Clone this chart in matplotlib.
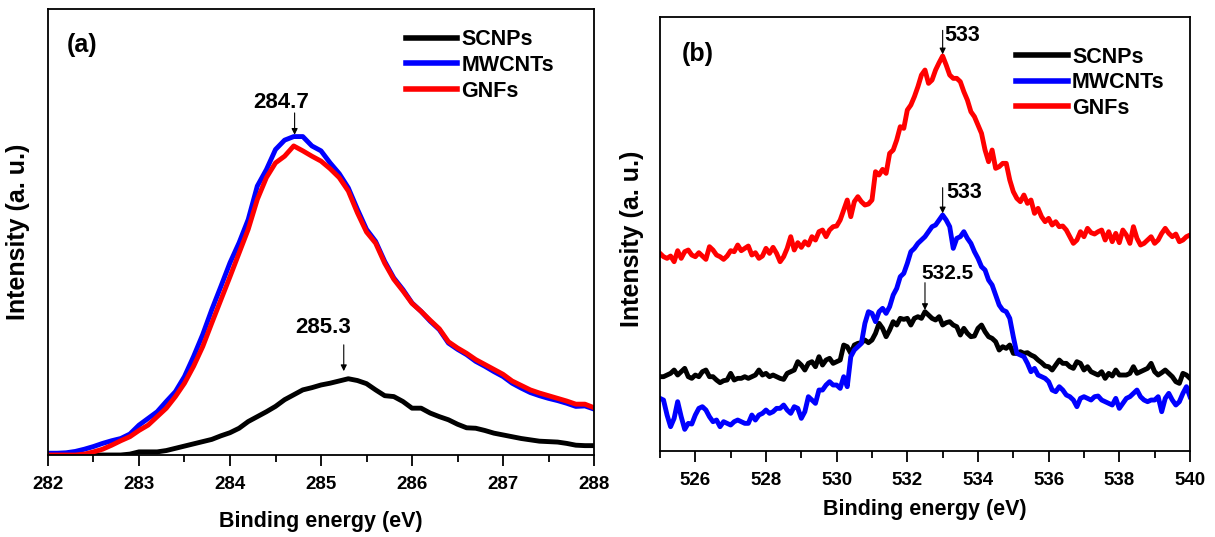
import numpy as np
import matplotlib
matplotlib.use("Agg")
import matplotlib.pyplot as plt
from matplotlib.ticker import MultipleLocator

plt.rcParams['font.family'] = ['Liberation Sans', 'DejaVu Sans']
plt.rcParams['font.weight'] = 'bold'

# ---- panel (a): C 1s, 282-288 eV, 0.1 eV steps ----
energy_c = np.round(np.arange(282.0, 288.01, 0.1), 1)
c_mwcnts = [4, 4, 5, 8, 13, 19, 26, 32, 37, 47,
            67, 82, 97, 120, 142, 176, 221, 270, 326, 378,
            431, 476, 528, 603, 640, 685, 706, 714, 714, 693,
            682, 655, 631, 599, 551, 506, 479, 434, 397, 371,
            341, 322, 300, 281, 251, 237, 225, 210, 199, 187,
            176, 161, 150, 140, 133, 127, 122, 116, 109, 110,
            103]
c_gnfs = [0, 0, 0, 0, 2, 7, 13, 22, 32, 41,
          55, 67, 86, 105, 131, 161, 199, 243, 296, 348,
          400, 453, 506, 573, 622, 655, 670, 693, 682, 670,
          659, 642, 622, 592, 543, 500, 475, 430, 394, 368,
          340, 322, 302, 283, 254, 240, 228, 214, 203, 192,
          181, 166, 156, 146, 139, 133, 127, 121, 114, 114,
          106]
c_scnps = [0, 0, 0, 0, 0, 0, 0, 0, 0, 2,
           7, 7, 7, 10, 15, 20, 25, 30, 35, 43,
           50, 60, 75, 86, 97, 109, 124, 135, 146, 151,
           157, 161, 166, 171, 167, 160, 146, 133, 131, 120,
           105, 105, 94, 86, 79, 69, 61, 60, 55, 49,
           45, 41, 37, 34, 31, 30, 29, 26, 22, 21,
           21]

# ---- panel (b): O 1s, 525-540 eV, 0.1 eV steps ----
energy_o = np.round(np.arange(525.0, 540.01, 0.1), 1)
o_gnfs = [593, 583, 578, 585, 568, 601, 578, 598, 603, 588,
          583, 595, 585, 575, 613, 603, 588, 583, 575, 585,
          601, 598, 618, 601, 608, 615, 588, 595, 578, 585,
          608, 593, 611, 593, 568, 583, 608, 643, 603, 625,
          611, 628, 618, 643, 633, 658, 663, 643, 663, 673,
          675,
          693, 723, 753, 703, 748, 763, 748, 738, 741, 753,
          838, 828, 845, 833, 893, 903, 933, 973, 968, 1023,
          1038, 1063, 1093, 1128, 1143, 1103, 1113, 1143, 1165, 1185,
          1158, 1128, 1118, 1118, 1108, 1078, 1053, 1018, 1003, 978,
          953, 903, 868, 903, 848, 853, 863, 863, 813, 778,
          758, 748, 768, 743, 753, 713, 728, 703, 688, 698,
          678, 688, 673, 675, 663, 643, 623, 633, 658, 643,
          668, 655, 651, 658, 663, 633, 658, 628, 653, 625,
          663, 648, 623, 673, 638, 618, 623, 633, 643, 623,
          633, 653, 668, 653, 643, 651, 628, 633, 643, 648]
o_scnps = [223, 223, 228, 233, 243, 228, 238, 248, 223, 218,
           228, 223, 238, 243, 223, 223, 213, 205, 211, 213,
           233, 213, 218, 218, 223, 218, 223, 228, 243, 228,
           233, 223, 228, 223, 218, 215, 233, 238, 243, 268,
           258, 243, 263, 268, 253, 283, 258, 273, 278, 263,
           268,
           273, 318, 313, 293, 318, 323, 325, 333, 325, 333,
           353, 383, 368, 343, 363, 388, 378, 398, 395, 398,
           378, 398, 403, 398, 418, 408, 398, 393, 403, 378,
           385, 388, 378, 373, 348, 368, 353, 343, 345, 368,
           378, 358, 343, 338, 328, 303, 313, 308, 318, 293,
           293, 298, 293, 295, 288, 283, 273, 265, 255, 253,
           243, 258, 273, 263, 263, 253, 248, 268, 263, 243,
           253, 238, 233, 228, 238, 218, 233, 225, 243, 228,
           228, 228, 233, 253, 233, 238, 243, 248, 263, 238,
           228, 235, 243, 233, 223, 208, 203, 233, 228, 218]
o_mwcnts = [158, 153, 108, 73, 98, 148, 103, 65, 83, 81,
            108, 128, 133, 123, 103, 88, 93, 73, 88, 83,
            78, 88, 93, 88, 83, 83, 108, 93, 108, 113,
            123, 113, 118, 128, 128, 138, 123, 113, 133, 128,
            98, 118, 163, 153, 143, 183, 183, 198, 208, 198,
            198,
            188, 223, 193, 283, 303, 313, 323, 383, 418, 413,
            388, 418, 428, 413, 433, 468, 488, 523, 533, 563,
            598, 608, 623, 633, 643, 658, 673, 678, 693, 708,
            693, 673, 608, 638, 643, 658, 638, 623, 598, 578,
            553, 543, 513, 498, 468, 438, 423, 418, 398, 343,
            293, 288, 283, 263, 238, 248, 228, 223, 218, 208,
            183, 178, 193, 183, 168, 163, 153, 133, 158, 163,
            158, 153, 163, 165, 153, 148, 143, 138, 158, 128,
            143, 158, 163, 173, 183, 163, 153, 148, 153, 153,
            163, 118, 158, 173, 153, 138, 148, 173, 193, 163]

labels = ['SCNPs', 'MWCNTs', 'GNFs']
colors = ['black', '#0000ff', '#ff0000']

fig = plt.figure(figsize=(12.15, 5.37), dpi=100)
ax1 = fig.add_axes([0.0395, 0.1527, 0.4494, 0.8305])
ax2 = fig.add_axes([0.5432, 0.1601, 0.4362, 0.8082])

lw = 3.5
ax1.plot(energy_c, c_scnps, color=colors[0], lw=lw, label=labels[0])
ax1.plot(energy_c, c_mwcnts, color=colors[1], lw=lw, label=labels[1])
ax1.plot(energy_c, c_gnfs, color=colors[2], lw=lw, label=labels[2])
ax1.set_xlim(282, 288)
ax1.set_ylim(0, 1000)
ax1.xaxis.set_major_locator(MultipleLocator(1))
ax1.xaxis.set_minor_locator(MultipleLocator(0.5))

ax2.plot(energy_o, o_scnps, color=colors[0], lw=lw, label=labels[0])
ax2.plot(energy_o, o_mwcnts, color=colors[1], lw=lw, label=labels[1])
ax2.plot(energy_o, o_gnfs, color=colors[2], lw=lw, label=labels[2])
ax2.set_xlim(525, 540)
ax2.set_ylim(0, 1302)
ax2.xaxis.set_major_locator(MultipleLocator(2))
ax2.xaxis.set_minor_locator(MultipleLocator(1))

for ax in (ax1, ax2):
    ax.set_yticks([])
    for s in ax.spines.values():
        s.set_linewidth(1.3)
    ax.tick_params(axis='x', which='major', direction='out', length=8,
                   width=1.3, pad=7, labelsize=13.5)
    ax.tick_params(axis='x', which='minor', direction='out', length=5,
                   width=1.3)
    ax.set_xlabel('Binding energy (eV)', fontsize=15.5, fontweight='bold')
    ax.set_ylabel('Intensity (a. u.)', fontsize=18, fontweight='bold')

ax1.xaxis.set_label_coords(0.5, -0.125)
ax1.yaxis.set_label_coords(-0.033, 0.5)
ax2.xaxis.set_label_coords(0.5, -0.111)
ax2.yaxis.set_label_coords(-0.030, 0.49)

ax1.text(0.063, 0.92, '(a)', transform=ax1.transAxes, fontsize=18,
         fontweight='bold', ha='center', va='center')
ax2.text(0.072, 0.915, '(b)', transform=ax2.transAxes, fontsize=18,
         fontweight='bold', ha='center', va='center')

leg_kw = dict(frameon=False, handlelength=2.4, handletextpad=0.2,
              labelspacing=0.22, borderaxespad=0, borderpad=0,
              prop={'size': 15.5, 'weight': 'bold'})
l1 = ax1.legend(loc='upper left', bbox_to_anchor=(0.655, 0.955), **leg_kw)
l2 = ax2.legend(loc='upper left', bbox_to_anchor=(0.672, 0.932), **leg_kw)
for leg in (l1, l2):
    for h in leg.get_lines():
        h.set_linewidth(4)

arrow = dict(arrowstyle='-|>', color='black', lw=0.8, mutation_scale=9,
             shrinkA=0, shrinkB=0)
# panel (a) peak marks
ax1.text(284.56, 791, '284.7', fontsize=16, fontweight='bold',
         ha='center', va='center')
ax1.annotate('', xy=(284.71, 718), xytext=(284.71, 767), arrowprops=arrow)
ax1.text(285.02, 287, '285.3', fontsize=16, fontweight='bold',
         ha='center', va='center')
ax1.annotate('', xy=(285.25, 188), xytext=(285.25, 247), arrowprops=arrow)

# panel (b) peak marks
ax2.text(533.06, 1248, '533', fontsize=15.5, fontweight='bold',
         ha='left', va='center')
ax2.annotate('', xy=(533.0, 1190), xytext=(533.0, 1262), arrowprops=arrow)
ax2.text(533.1, 775, '533', fontsize=15.5, fontweight='bold',
         ha='left', va='center')
ax2.annotate('', xy=(533.0, 713), xytext=(533.0, 790), arrowprops=arrow)
ax2.text(532.4, 533, '532.5', fontsize=15, fontweight='bold',
         ha='left', va='center')
ax2.annotate('', xy=(532.5, 423), xytext=(532.5, 505), arrowprops=arrow)

fig.savefig('out.png', dpi=100)
